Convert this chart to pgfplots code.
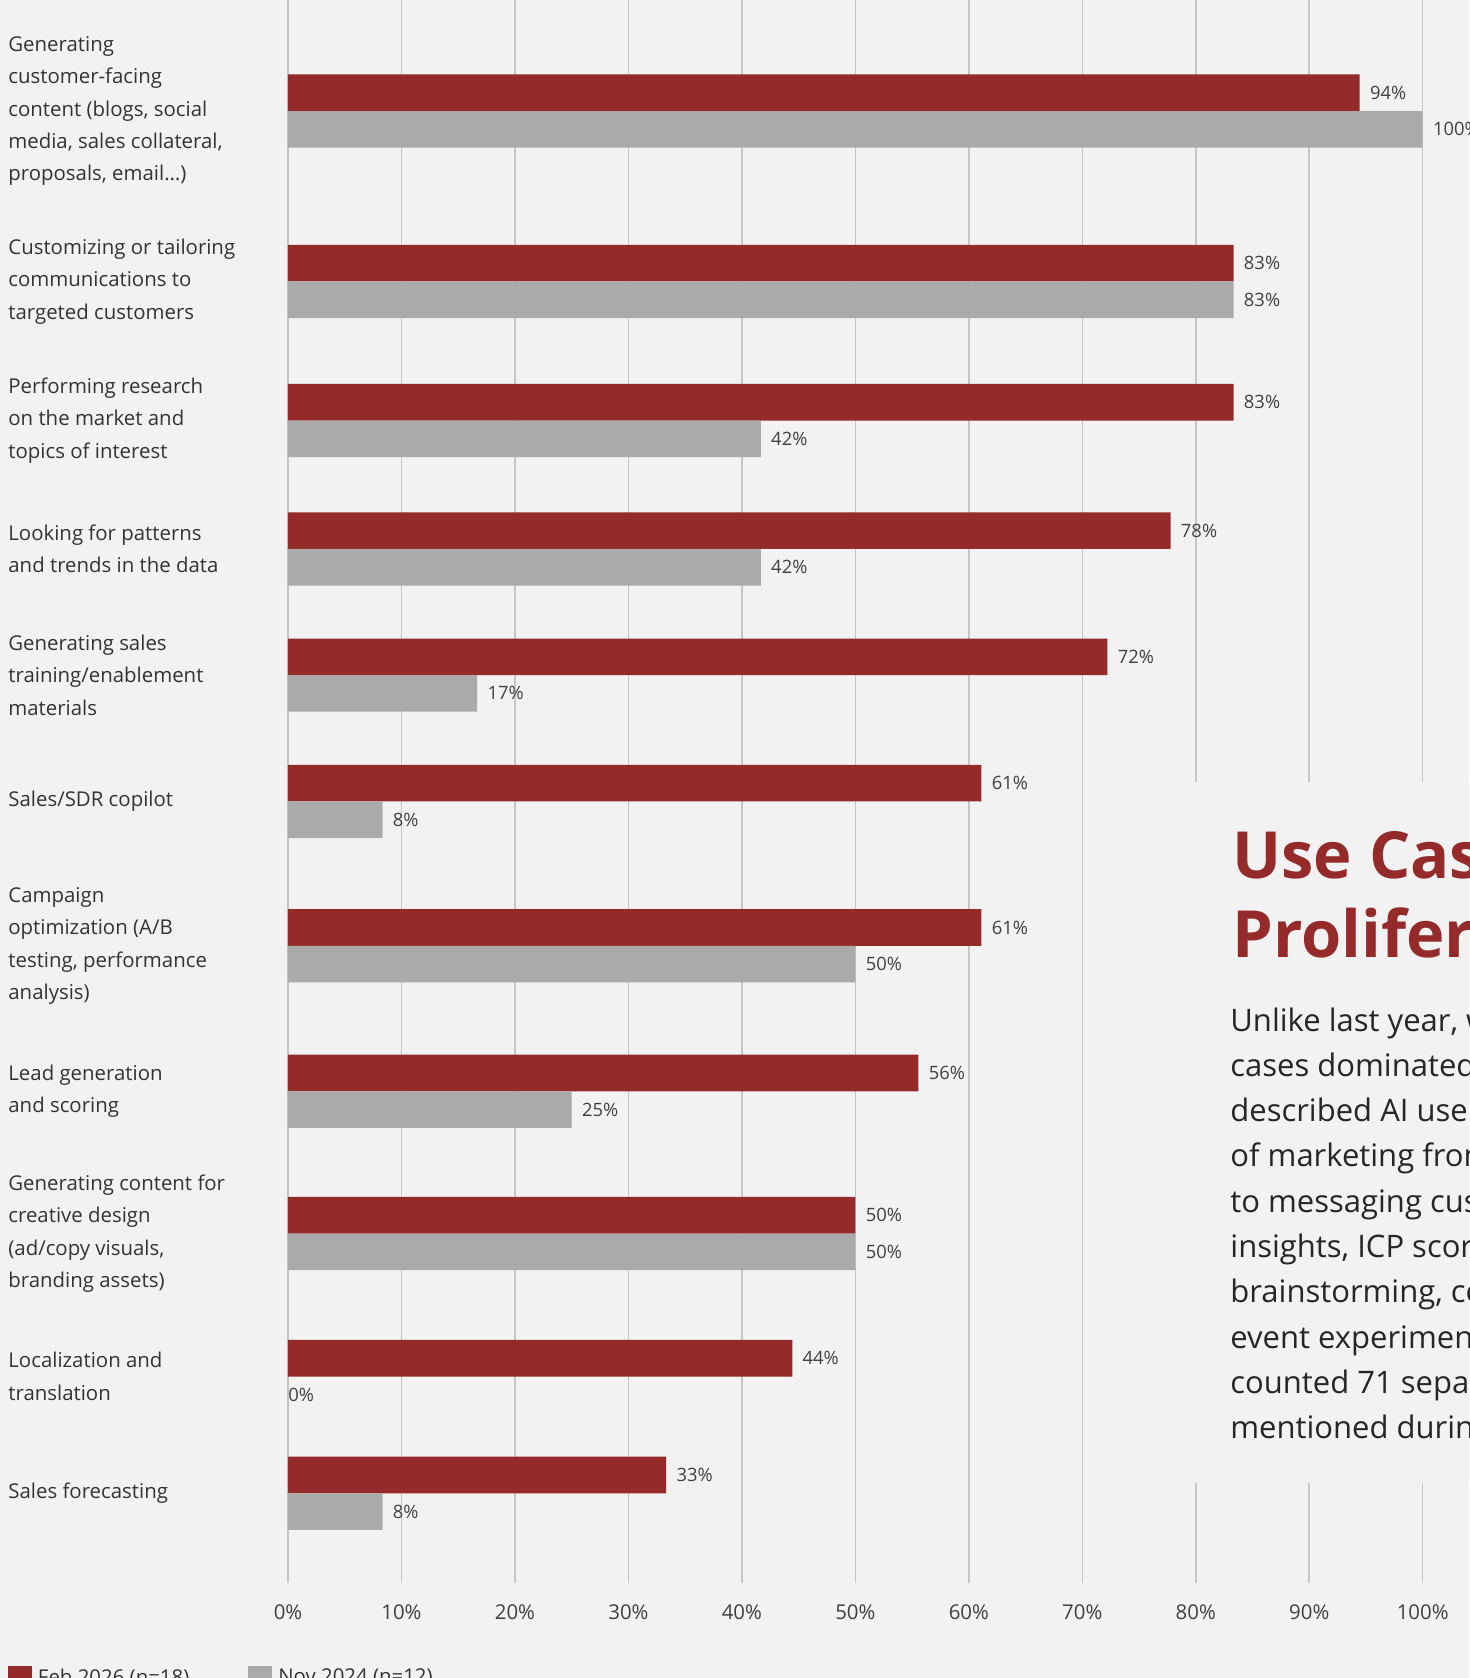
\documentclass[border=0pt]{standalone}
\usepackage{fontspec}
\setmainfont{Open Sans}
\usepackage{pgfplots}
\usepackage{pgfplotstable}
\pgfplotsset{compat=1.18}
\definecolor{bgc}{HTML}{F2F2F2}
\definecolor{barred}{HTML}{952A2A}
\definecolor{bargray}{HTML}{AAAAAA}
\definecolor{gridc}{HTML}{C6C6C6}
\definecolor{labc}{HTML}{404040}
\definecolor{catc}{HTML}{333333}
\definecolor{bodyc}{HTML}{262626}

\pgfplotstableread{
y feb
-111 94.44
-281.4 83.33
-420.5 83.33
-548.9 77.78
-675.1 72.22
-801.4 61.11
-945.8 61.11
-1091.3 55.56
-1233.5 50
-1376.5 44.44
-1493.3 33.33
}\febtable

\pgfplotstableread{
y nov
-111 100
-281.4 83.33
-420.5 41.67
-548.9 41.67
-675.1 16.67
-801.4 8.33
-945.8 50
-1091.3 25
-1233.5 50
-1493.3 8.33
}\novtable

\pgfplotstableread{
y nov
-1376.5 0
}\novzero

\begin{document}
\begin{tikzpicture}
\useasboundingbox (0pt,0pt) rectangle (734.5pt,-839pt);
\clip (0pt,0pt) rectangle (734.5pt,-839pt);
\fill[bgc] (0pt,0pt) rectangle (734.5pt,-839pt);
\begin{axis}[
  at={(144pt,0pt)}, anchor=north west,
  scale only axis, width=567.35pt, height=791.5pt,
  xmin=0, xmax=100, ymin=-1583, ymax=0,
  enlargelimits=false, clip=false,
  /pgf/number format/assume math mode=true,
  axis line style={draw=none}, tick style={draw=none}, major tick length=0pt,
  xtick={0,10,...,100},
  xticklabels={0\%,10\%,20\%,30\%,40\%,50\%,60\%,70\%,80\%,90\%,100\%},
  xmajorgrids, grid style={gridc, line width=0.75pt},
  ytick={-111,-281.4,-420.5,-548.9,-675.1,-801.4,-945.8,-1091.3,-1233.5,-1376.5,-1493.3},
  yticklabels={
    {Generating\\customer-facing\\content (blogs, social\\media, sales collateral,\\proposals, email…)},
    {Customizing or tailoring\\communications to\\targeted customers},
    {Performing research\\on the market and\\topics of interest},
    {Looking for patterns\\and trends in the data},
    {Generating sales\\training/enablement\\materials},
    {Sales/SDR copilot},
    {Campaign\\optimization (A/B\\testing, performance\\analysis)},
    {Lead generation\\and scoring},
    {Generating content for\\creative design\\(ad/copy visuals,\\branding assets)},
    {Localization and\\translation},
    {Sales forecasting}},
  xticklabel style={font=\fontsize{10.2}{12}\selectfont, text=labc, inner sep=0pt, anchor=north, yshift=-10.8pt},
  yticklabel style={font=\fontsize{10.2}{16.2}\selectfont, text=catc, align=left, anchor=west, inner sep=0pt, xshift=-140pt},
  legend style={draw=none, fill=none, inner sep=0pt, outer sep=0pt,
    at={(axis description cs:-0.24676,-0.05243)}, anchor=north west,
    legend columns=2, column sep=3pt,
    /tikz/every even column/.append style={column sep=29.5pt},
    nodes={inner sep=0pt, font=\fontsize{10.2}{12}\selectfont, text=catc}},
  legend image code/.code={\fill[#1] (0pt,-6pt) rectangle (12pt,6pt);},
  nodes near coords={\pgfmathprintnumber[fixed,precision=0,assume math mode=true]{\pgfplotspointmeta}\%},
  point meta=x,
  nodes near coords style={font=\fontsize{9.2}{11}\selectfont, text=labc, anchor=west, inner sep=0pt},
]
\addplot[xbar, bar width=36.6, bar shift=18.3, fill=barred, draw=none,
  every node near coord/.append style={xshift=5pt, yshift=9.15pt}]
  table[x=feb, y=y] {\febtable};
\addlegendentry{Feb 2026 (n=18)}
\addplot[xbar, bar width=36.6, bar shift=-18.3, fill=bargray, draw=none,
  every node near coord/.append style={xshift=5pt, yshift=-9.15pt}]
  table[x=nov, y=y] {\novtable};
\addlegendentry{Nov 2024 (n=12)}
\addplot[xbar, bar width=36.6, bar shift=-18.3, fill=bargray, draw=none, forget plot,
  every node near coord/.append style={yshift=-9.15pt}]
  table[x=nov, y=y] {\novzero};
\end{axis}
\fill[bgc] (575pt,-391pt) rectangle (740pt,-741.5pt);
\node[anchor=base west, inner sep=0pt, font=\bfseries\fontsize{32.5}{39.5}\selectfont, text=barred] at (616pt,-439pt) {Use Cases};
\node[anchor=base west, inner sep=0pt, font=\bfseries\fontsize{32.5}{39.5}\selectfont, text=barred] at (616pt,-478.5pt) {Proliferate};
\begin{scope}[every node/.style={anchor=base west, inner sep=0pt, font=\fontsize{15.5}{22.6}\selectfont, text=bodyc}]
\node at (615pt,-515.5pt) {Unlike last year, when};
\node at (615pt,-538.15pt) {cases dominated};
\node at (615pt,-560.8pt) {described AI use};
\node at (615pt,-583.45pt) {of marketing from};
\node at (615pt,-606.1pt) {to messaging customers};
\node at (615pt,-628.75pt) {insights, ICP scoring,};
\node at (615pt,-651.4pt) {brainstorming, co};
\node at (615pt,-674.05pt) {event experiments};
\node at (615pt,-696.7pt) {counted 71 separate};
\node at (615pt,-719.35pt) {mentioned during};
\end{scope}
\end{tikzpicture}
\end{document}
